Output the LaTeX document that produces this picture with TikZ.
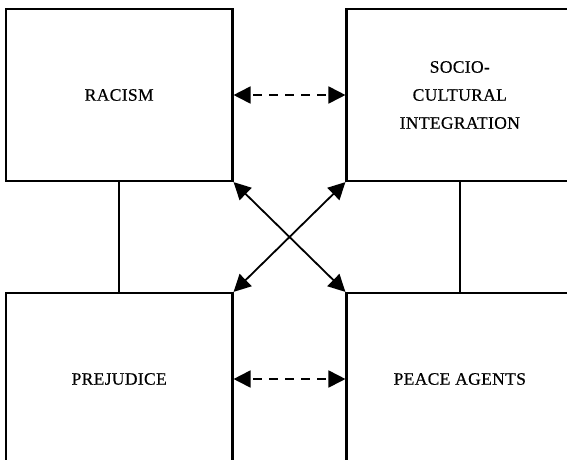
\documentclass[tikz,border=0pt]{standalone}
\usepackage{fontspec}
\setmainfont{Liberation Serif}[LetterSpace=2,FakeBold=0.4]
\usetikzlibrary{arrows.meta}
\begin{document}
\begin{tikzpicture}[x=1pt,y=-1pt,
  conceptbox/.style={draw, line width=2.2pt, minimum width=226.5pt, minimum height=172pt,
    inner sep=0pt, align=center, font=\fontsize{17.5}{28}\selectfont},
  link/.style={line width=1.7pt},
  biarrow/.style={line width=1.8pt, {Triangle[length=17pt,width=17pt]}-{Triangle[length=17pt,width=17pt]}},
  dasharrow/.style={biarrow, dash pattern=on 9pt off 7pt, dash phase=-3pt}]
  \useasboundingbox (0,0) rectangle (567,459);
  \clip (0,0) rectangle (567,459);
  \node[conceptbox] (racism)    at (119.2,95)  {RACISM};
  \node[conceptbox] (socio)     at (459.8,95)  {SOCIO-\\CULTURAL\\INTEGRATION};
  \node[conceptbox] (prejudice) at (119.2,379) {PREJUDICE};
  \node[conceptbox] (peace)     at (459.8,379) {PEACE AGENTS};
  % vertical links between upper and lower boxes
  \draw[link] (racism.south) -- (prejudice.north);
  \draw[link] (socio.south) -- (peace.north);
  % dashed horizontal relations
  \draw[dasharrow] (racism.east) -- (socio.west);
  \draw[dasharrow] (prejudice.east) -- (peace.west);
  % crossing diagonal relations
  \draw[biarrow] (racism.south east) -- (peace.north west);
  \draw[biarrow] (socio.south west) -- (prejudice.north east);
\end{tikzpicture}
\end{document}
